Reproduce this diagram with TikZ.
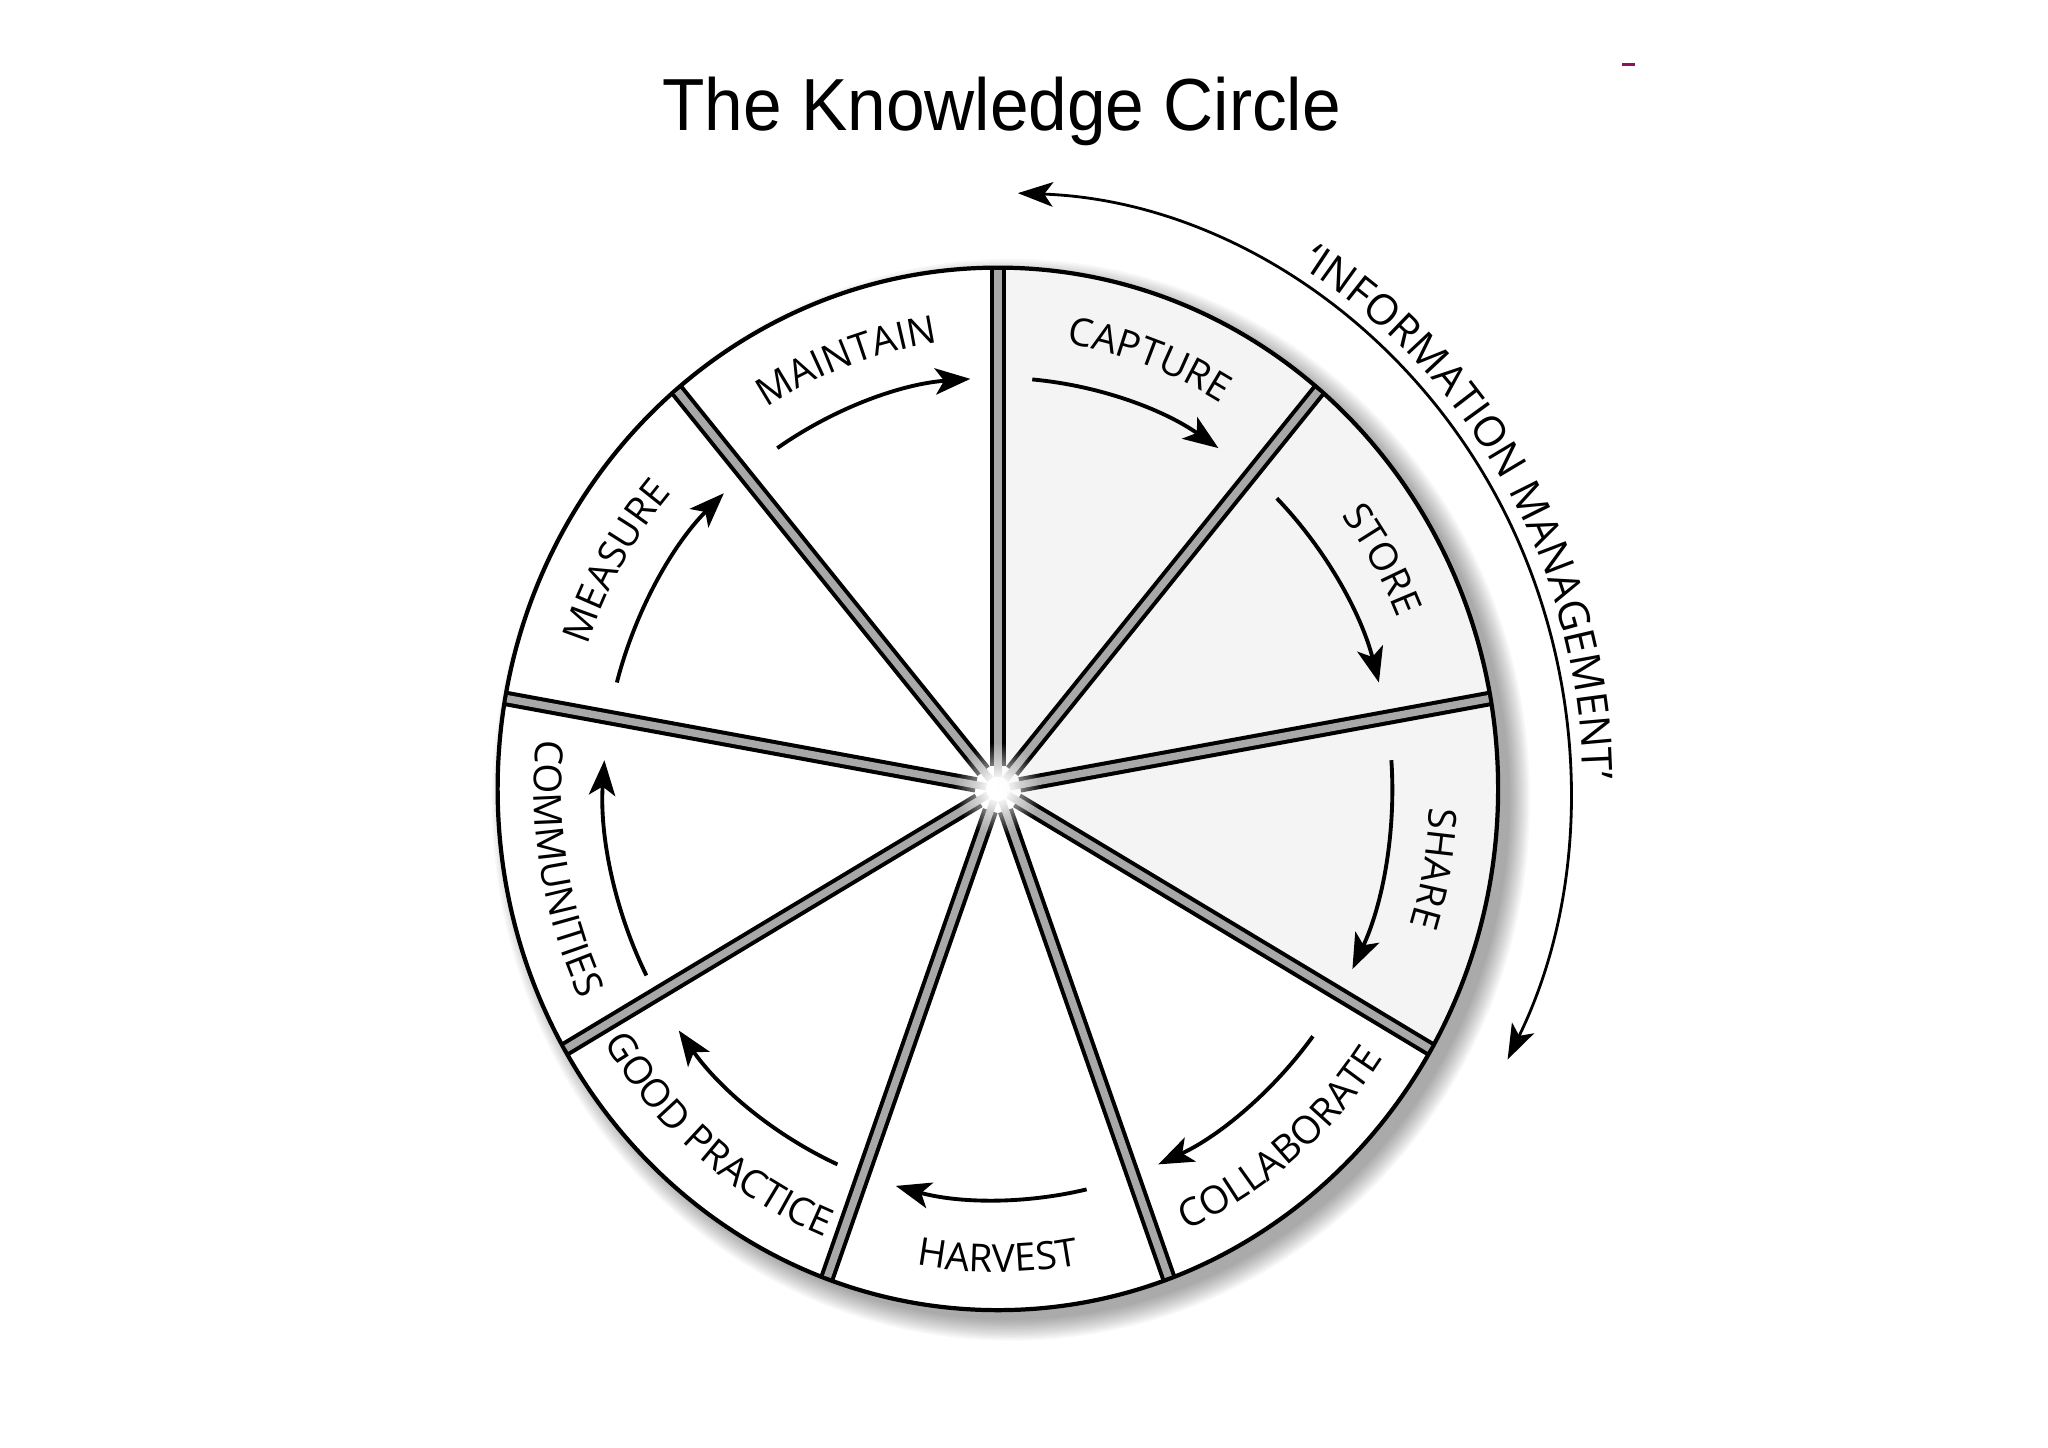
\documentclass[tikz,border=0pt]{standalone}
\usepackage{fontspec}
\setmainfont{Liberation Sans}
\newfontfamily\labelfont{Open Sans}
\usepackage{graphicx}
\usetikzlibrary{arrows.meta,decorations.text,fadings}
\definecolor{wedgegray}{gray}{0.955}
\definecolor{stripgray}{gray}{0.66}
\definecolor{markcol}{RGB}{140,20,90}
\newcommand\lblfont{\labelfont\fontsize{11}{13}\selectfont}
\newcommand\imfont{\labelfont\fontsize{12}{14}\selectfont}
\tikzfading[name=hubfade, inner color=transparent!0, outer color=transparent!100]
\tikzset{
  cyclearrow/.style={line width=1.1pt, -{Stealth[length=10pt,width=7.5pt,inset=2.5pt]}},
  lblpath/.style={decorate, decoration={text along path, text={|\lblfont|#1}, text align=center}},
  impath/.style={decorate, decoration={text along path, text={|\imfont|#1}, text align=center}},
  divblack/.style={line width=4.4pt, black},
  divgray/.style={line width=2.1pt, stripgray},
  imarrow/.style={line width=0.8pt, {Stealth[length=10pt,width=7pt,inset=2.5pt]}-{Stealth[length=10pt,width=7pt,inset=2.5pt]}},
}
\begin{document}
\begin{tikzpicture}[x=0.013061cm,y=0.013061cm]
\useasboundingbox (0,0) rectangle (1568,1108.6);
\fill[white] (0,0) rectangle (1568,1108.6);
\node[anchor=base, inner sep=0pt, font=\fontsize{21}{25}\selectfont] (title) at (767,1008.6) {\scalebox{0.94}[1]{The Knowledge Circle}};
\fill[markcol] (1242,1057.8) rectangle (1252,1060.3);
\begin{scope}[shift={(764,504.6)}, yscale=1.042]
  % soft shadow
  \foreach \k in {0,...,11} \fill[black, opacity=0.03] (10,-8) circle[radius={382+1.4*\k}];
  % wedges
  \fill[white] (0,0) circle[radius=383];
  \fill[wedgegray] (0,0) -- (90:383) arc[start angle=90, end angle=-30, radius=383] -- cycle;
  \draw[line width=1.2pt] (0,0) circle[radius=383];
  \foreach \t in {90,50,10,-30,-70,-110,-150,170,130} {
    \draw[divblack] (\t:17) -- (\t:384);
    \draw[divgray] (\t:9) -- (\t:381.5);
  }
  \fill[white, path fading=hubfade] (0,0) circle[radius=34];
  \fill[white, path fading=hubfade] (0,0) circle[radius=16];
  % cycle arrows
  \foreach \a/\b in {85/56, 45/15, 4/-26, -37/-66, -77/-105, -114/-144, -153/-184, 165/134, 124/94}
    \draw[cyclearrow] (\a:302) arc[start angle=\a, end angle=\b, radius=302];
  % labels (outward)
  \path[lblpath=CAPTURE] (95:331) arc[start angle=95, end angle=45, radius=331];
  \path[lblpath=STORE] (55:331) arc[start angle=55, end angle=5, radius=331];
  \path[lblpath=SHARE] (15:331) arc[start angle=15, end angle=-35, radius=331];
  \path[lblpath=MAINTAIN] (135:331) arc[start angle=135, end angle=85, radius=331];
  \path[lblpath=MEASURE] (175:331) arc[start angle=175, end angle=125, radius=331];
  % labels (inward)
  \path[lblpath=COLLABORATE] (-75:355) arc[start angle=-75, end angle=-25, radius=355];
  \path[lblpath=HARVEST] (-115:355) arc[start angle=-115, end angle=-65, radius=355];
  \path[lblpath=GOOD PRACTICE] (-155:355) arc[start angle=-155, end angle=-105, radius=355];
  \path[lblpath=COMMUNITIES] (-195:355) arc[start angle=-195, end angle=-145, radius=355];
  % information management
  \draw[imarrow] (88:438) arc[start angle=88, end angle=-27, radius=438];
  \path[impath=‘INFORMATION MANAGEMENT’] (70:448) arc[start angle=70, end angle=-10, radius=448];
\end{scope}
\end{tikzpicture}
\end{document}
